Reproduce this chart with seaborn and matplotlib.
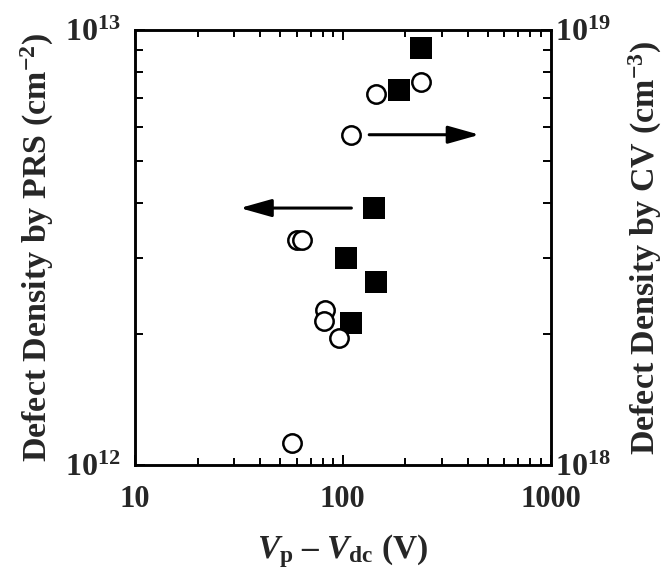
import numpy as np
import pandas as pd
import matplotlib
matplotlib.use("Agg")
import matplotlib.pyplot as plt
import matplotlib.ticker as mticker
import seaborn as sns

# ---- data ----
prs_v = [239, 187, 142, 104, 145, 110]
prs_density = [9.1e12, 7.3e12, 3.9e12, 3.0e12, 2.63e12, 2.12e12]

cv_v = [238, 144, 109, 60.5, 63.5, 82, 81.5, 95.5, 56.7]
cv_density = [7.6e18, 7.15e18, 5.75e18, 3.3e18, 3.3e18, 2.27e18, 2.14e18, 1.96e18, 1.125e18]

x_ticks = [10, 100, 1000]
x_tick_labels = ["10", "100", "1000"]

sns.set_theme(style="ticks")
plt.rcParams["font.family"] = ["Liberation Serif", "DejaVu Serif"]
plt.rcParams["font.weight"] = "bold"
plt.rcParams["mathtext.fontset"] = "custom"
plt.rcParams["mathtext.rm"] = "Liberation Serif:bold"
plt.rcParams["mathtext.bf"] = "Liberation Serif:bold"
plt.rcParams["mathtext.it"] = "Liberation Serif:italic:bold"

prs = pd.DataFrame({"v": prs_v, "d": prs_density})
cv = pd.DataFrame({"v": cv_v, "d": cv_density})

fig = plt.figure(figsize=(6.66, 5.70), dpi=100)
ax = fig.add_axes([0.2027, 0.184, 0.624, 0.763])
ax2 = ax.twinx()

ax.set_xscale("log")
ax.set_yscale("log")
ax2.set_yscale("log")
ax.set_xlim(10, 1000)
ax.set_ylim(1e12, 1e13)
ax2.set_ylim(1e18, 1e19)

sns.scatterplot(data=prs, x="v", y="d", ax=ax, marker="s", s=250,
                color="black", edgecolor="black", linewidth=0, zorder=3)
sns.scatterplot(data=cv, x="v", y="d", ax=ax2, marker="o", s=175,
                facecolor="white", edgecolor="black", linewidth=1.8, zorder=3)

# arrows
ax.annotate("", xy=(455, 5.75e12), xytext=(134, 5.75e12),
            arrowprops=dict(arrowstyle="-|>,head_length=1.6,head_width=0.45",
                            color="black", lw=2.2, shrinkA=0, shrinkB=0))
ax.annotate("", xy=(32, 3.9e12), xytext=(110, 3.9e12),
            arrowprops=dict(arrowstyle="-|>,head_length=1.6,head_width=0.45",
                            color="black", lw=2.2, shrinkA=0, shrinkB=0))

# ticks
ax.xaxis.set_major_locator(mticker.FixedLocator(x_ticks))
ax.xaxis.set_major_formatter(mticker.FixedFormatter(x_tick_labels))
ax.xaxis.set_minor_locator(mticker.LogLocator(base=10, subs=np.arange(2, 10)))
ax.xaxis.set_minor_formatter(mticker.NullFormatter())

fmt = mticker.FuncFormatter(lambda v, p: r"$10^{%d}$" % int(round(np.log10(v))))
for a in (ax, ax2):
    a.yaxis.set_major_locator(mticker.LogLocator(base=10, numticks=5))
    a.yaxis.set_major_formatter(fmt)
    a.yaxis.set_minor_locator(mticker.LogLocator(base=10, subs=np.arange(2, 10), numticks=10))
    a.yaxis.set_minor_formatter(mticker.NullFormatter())
    for s in a.spines.values():
        s.set_linewidth(1.8)
        s.set_color("black")

ax.tick_params(axis="x", which="both", direction="in", top=True, bottom=True,
               width=1.4, color="black", labelsize=22, pad=14)
ax.tick_params(axis="x", which="major", length=7)
ax.tick_params(axis="x", which="minor", length=5)
ax.tick_params(axis="y", which="both", direction="in", left=True, right=False,
               width=1.4, color="black", labelsize=23, pad=10)
ax.tick_params(axis="y", which="major", length=7)
ax.tick_params(axis="y", which="minor", length=5.5)
ax2.tick_params(axis="y", which="both", direction="in", right=True,
                width=1.4, color="black", labelsize=23, pad=3)
ax2.tick_params(axis="y", which="major", length=7)
ax2.tick_params(axis="y", which="minor", length=5.5)

for lab in ax.get_xticklabels() + ax.get_yticklabels() + ax2.get_yticklabels():
    lab.set_fontweight("bold")

ax.set_xlabel(r"$V_{\mathrm{p}}$ – $V_{\mathrm{dc}}$ (V)", fontsize=24,
              fontweight="bold", labelpad=13)
ax.set_ylabel(r"Defect Density by PRS (cm$^{-2}$)", fontsize=24.5,
              fontweight="bold", labelpad=7)
ax2.set_ylabel(r"Defect Density by CV (cm$^{-3}$)", fontsize=24.5,
               fontweight="bold", labelpad=12)

fig.savefig("out.png", dpi=100)
